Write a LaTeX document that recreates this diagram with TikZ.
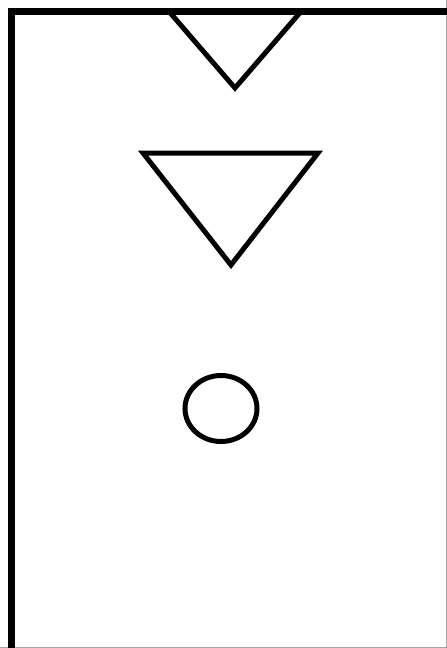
\documentclass[tikz,border=0pt]{standalone}
\usepackage{tikz}
\usetikzlibrary{calc}

\begin{document}
\begin{tikzpicture}[
 x=1pt, y=-1pt,
 frame/.style={draw=black, line width=7pt},
 sym/.style={draw=black, line width=5pt, line join=miter}]
\useasboundingbox (0,0) rectangle (447,648);
\fill[white] (0,0) rectangle (447,648);
% outer frame, right and bottom run off the sheet
\draw[gray!70, line width=0.8pt] (0,647.6)--(447,647.6);
\draw[gray!70, line width=0.8pt] (446.6,0)--(446.6,648);
\coordinate (tl) at (11.5,11.5);
\coordinate (tr) at (447,11.5);
\coordinate (bl) at (11.5,648);

% upper triangle, cut by the frame
\coordinate (ua) at (169,11.5);
\coordinate (ub) at (301,11.5);
\coordinate (uc) at (235,88);
\draw[sym] (ua)--(uc)--(ub);

% lower triangle
\coordinate (la) at (143,153);
\coordinate (lb) at (318,153);
\coordinate (lc) at (231,265);
\draw[sym] (la)--(lb)--(lc)--cycle;

% circle
\coordinate (cc) at (221,408.5);
\draw[sym] (cc) ellipse [x radius=36, y radius=33];

\draw[frame] (bl)--(tl)--(tr);
\end{tikzpicture}
\end{document}
